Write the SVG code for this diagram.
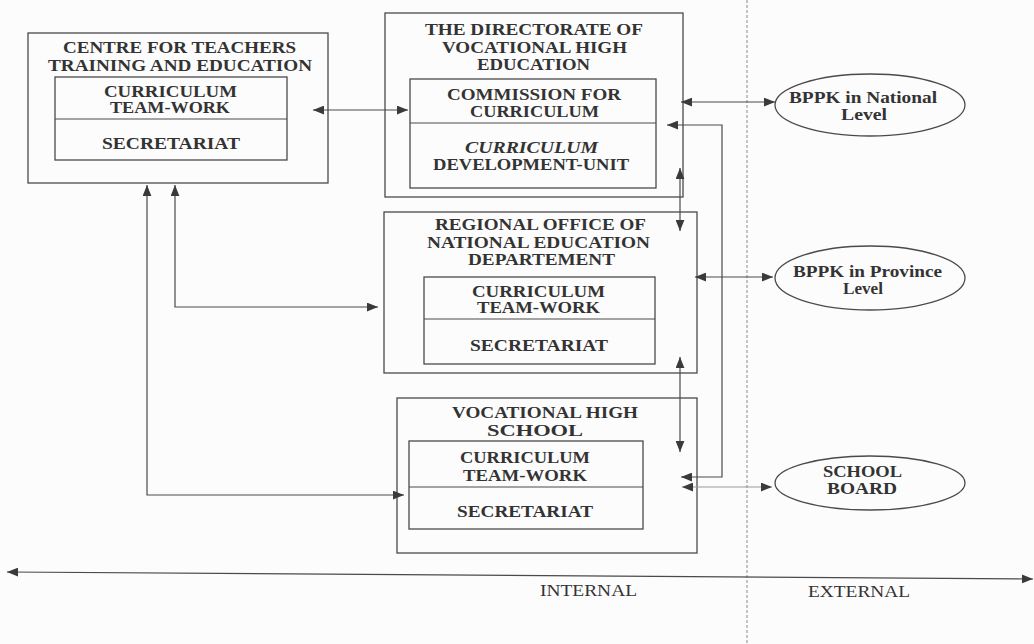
<svg xmlns="http://www.w3.org/2000/svg" width="1034" height="644" viewBox="0 0 1034 644">
  <defs>
    <style>
      .box { fill: none; stroke: #4a4a4a; stroke-width: 1.3; }
      .div { stroke: #4a4a4a; stroke-width: 1.1; }
      .t { font-family: "Liberation Serif", "Times New Roman", serif; font-weight: bold; font-size: 16px; fill: #333; }
      .ti { font-style: italic; }
      .ax { font-family: "Liberation Serif", "Times New Roman", serif; font-size: 16px; fill: #333; }
      .con { fill: none; stroke: #4a4a4a; stroke-width: 1.2; marker-start: url(#ah); marker-end: url(#ah); }
      .light { stroke: #999; }
      .ell { fill: none; stroke: #4a4a4a; stroke-width: 1.3; }
    </style>
    <marker id="ah" viewBox="0 0 10 8" refX="10" refY="4" markerWidth="11" markerHeight="9" markerUnits="userSpaceOnUse" orient="auto-start-reverse">
      <path d="M0,0 L10,4 L0,8 z" fill="#3a3a3a"/>
    </marker>
  </defs>

  <rect width="1034" height="644" fill="#fdfcfd"/>

  <!-- internal / external boundary -->
  <path d="M747,0 V644" stroke="#8a8a8a" stroke-width="1" stroke-dasharray="3 2" fill="none"/>

  <g id="centre">
    <rect class="box" x="28" y="33" width="300" height="150"/>
    <text class="t" x="63" y="53" textLength="233" lengthAdjust="spacingAndGlyphs">CENTRE FOR TEACHERS</text>
    <text class="t" x="48" y="71" textLength="264" lengthAdjust="spacingAndGlyphs">TRAINING AND EDUCATION</text>
    <rect class="box" x="55" y="77" width="232" height="83"/>
    <line class="div" x1="55" y1="119" x2="287" y2="119"/>
    <text class="t" x="104" y="97" textLength="133" lengthAdjust="spacingAndGlyphs">CURRICULUM</text>
    <text class="t" x="110" y="113" textLength="120" lengthAdjust="spacingAndGlyphs">TEAM-WORK</text>
    <text class="t" x="102" y="149" textLength="138" lengthAdjust="spacingAndGlyphs">SECRETARIAT</text>
  </g>

  <g id="directorate">
    <rect class="box" x="385" y="13" width="298" height="184"/>
    <text class="t" x="425" y="35" textLength="218" lengthAdjust="spacingAndGlyphs">THE DIRECTORATE OF</text>
    <text class="t" x="442" y="53" textLength="185" lengthAdjust="spacingAndGlyphs">VOCATIONAL HIGH</text>
    <text class="t" x="477" y="70" textLength="113" lengthAdjust="spacingAndGlyphs">EDUCATION</text>
    <rect class="box" x="410" y="79" width="246" height="109"/>
    <line class="div" x1="410" y1="123" x2="656" y2="123"/>
    <text class="t" x="447" y="100" textLength="174" lengthAdjust="spacingAndGlyphs">COMMISSION FOR</text>
    <text class="t" x="470" y="117" textLength="129" lengthAdjust="spacingAndGlyphs">CURRICULUM</text>
    <text class="t ti" x="465" y="153" textLength="133" lengthAdjust="spacingAndGlyphs">CURRICULUM</text>
    <text class="t" x="433" y="170" textLength="196" lengthAdjust="spacingAndGlyphs">DEVELOPMENT-UNIT</text>
  </g>

  <g id="regional">
    <rect class="box" x="384" y="212" width="313" height="161"/>
    <text class="t" x="435" y="230" textLength="211" lengthAdjust="spacingAndGlyphs">REGIONAL OFFICE OF</text>
    <text class="t" x="427" y="248" textLength="223" lengthAdjust="spacingAndGlyphs">NATIONAL EDUCATION</text>
    <text class="t" x="468" y="265" textLength="147" lengthAdjust="spacingAndGlyphs">DEPARTEMENT</text>
    <rect class="box" x="424" y="277" width="231" height="87"/>
    <line class="div" x1="424" y1="319" x2="655" y2="319"/>
    <text class="t" x="472" y="297" textLength="133" lengthAdjust="spacingAndGlyphs">CURRICULUM</text>
    <text class="t" x="477" y="313" textLength="123" lengthAdjust="spacingAndGlyphs">TEAM-WORK</text>
    <text class="t" x="470" y="351" textLength="138" lengthAdjust="spacingAndGlyphs">SECRETARIAT</text>
  </g>

  <g id="school">
    <rect class="box" x="397" y="398" width="300" height="155"/>
    <text class="t" x="452" y="418" textLength="186" lengthAdjust="spacingAndGlyphs">VOCATIONAL HIGH</text>
    <text class="t" x="487" y="436" textLength="96" lengthAdjust="spacingAndGlyphs">SCHOOL</text>
    <rect class="box" x="409" y="441" width="234" height="88"/>
    <line class="div" x1="409" y1="487" x2="643" y2="487"/>
    <text class="t" x="460" y="463" textLength="130" lengthAdjust="spacingAndGlyphs">CURRICULUM</text>
    <text class="t" x="463" y="481" textLength="124" lengthAdjust="spacingAndGlyphs">TEAM-WORK</text>
    <text class="t" x="457" y="517" textLength="136" lengthAdjust="spacingAndGlyphs">SECRETARIAT</text>
  </g>

  <g id="bppk-national">
    <ellipse class="ell" cx="870" cy="105" rx="95" ry="31"/>
    <text class="t" x="789" y="103" textLength="148" lengthAdjust="spacingAndGlyphs">BPPK in National</text>
    <text class="t" x="841" y="120" textLength="46" lengthAdjust="spacingAndGlyphs">Level</text>
  </g>

  <g id="bppk-province">
    <ellipse class="ell" cx="870" cy="278" rx="95" ry="32"/>
    <text class="t" x="793" y="277" textLength="149" lengthAdjust="spacingAndGlyphs">BPPK in Province</text>
    <text class="t" x="843" y="294" textLength="40" lengthAdjust="spacingAndGlyphs">Level</text>
  </g>

  <g id="school-board">
    <ellipse class="ell" cx="870" cy="483" rx="95" ry="27"/>
    <text class="t" x="823" y="477" textLength="79" lengthAdjust="spacingAndGlyphs">SCHOOL</text>
    <text class="t" x="827" y="494" textLength="70" lengthAdjust="spacingAndGlyphs">BOARD</text>
  </g>

  <g id="connectors">
    <path class="con" d="M313,110 H408"/>
    <path class="con" d="M681,102 H775"/>
    <path class="con" d="M667,125 H722 V477 H681"/>
    <path class="con light" d="M682,487 H772"/>
    <path class="con" d="M680,168 V231"/>
    <path class="con" d="M680,357 V452"/>
    <path class="con" d="M695,277 H773"/>
    <path class="con" d="M175,185 V307 H378"/>
    <path class="con" d="M147,185 V495 H404"/>
    <path class="con" d="M7,572 L1033,579"/>
  </g>

  <g id="axis-labels">
    <text class="ax" x="540" y="596" textLength="97" lengthAdjust="spacingAndGlyphs">INTERNAL</text>
    <text class="ax" x="808" y="597" textLength="102" lengthAdjust="spacingAndGlyphs">EXTERNAL</text>
  </g>
</svg>
